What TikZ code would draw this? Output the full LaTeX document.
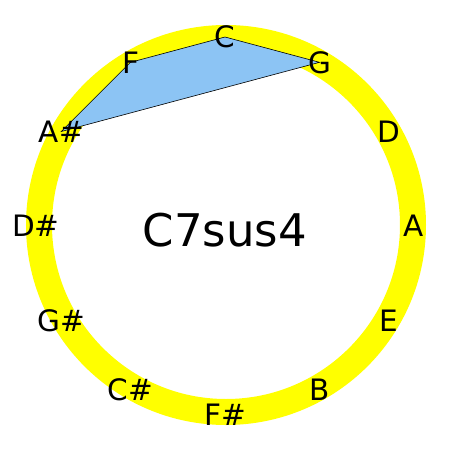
\documentclass[tikz,border=0pt]{standalone}
\usepackage{fontspec}
\setmainfont{DejaVu Sans}
\usetikzlibrary{backgrounds}
\definecolor{ringyellow}{RGB}{255,255,0}
\definecolor{chordblue}{RGB}{140,196,244}
\begin{document}
\begin{tikzpicture}[x=1pt,y=-1pt,
  note/.style={font=\fontsize{29.5}{31}\selectfont, inner sep=0pt, text=black},
  title/.style={font=\fontsize{45}{47}\selectfont, inner sep=0pt, text=black},
  ring/.style={draw=ringyellow, line width=26pt},
  chord/.style={fill=chordblue, draw=black, line width=0.6pt, line join=miter}]
\useasboundingbox (0,0) rectangle (450,450);
\foreach \n/\lab [count=\i from 0] in {C/C, G/G, D/D, A/A, E/E, B/B, Fs/F\#, Cs/C\#, Gs/G\#, Ds/D\#, As/A\#, F/F}
  \node[note] (\n) at ({225+189*cos(90-30*\i)}, {226-189*sin(90-30*\i)}) {\lab};
\node[title] (chordname) at (225,230) {C7sus4};
\begin{scope}[on background layer]
  \coordinate (ctr) at (226,225);
  \draw[ring] (ctr) circle[radius=187pt];
  \draw[chord] (C.center) -- (G.center) -- (As.center) -- (F.center) -- cycle;
\end{scope}
\end{tikzpicture}
\end{document}
